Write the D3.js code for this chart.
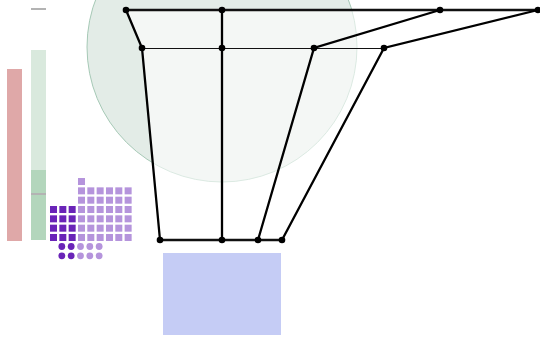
<!DOCTYPE html>
<html>
<head>
<meta charset="utf-8">
<script src="https://cdn.jsdelivr.net/npm/d3@7"></script>
<style>
body { margin: 0; background: #fff; }
</style>
</head>
<body>
<script>
// chart values
var barValues = [172, 191];          // red bar, green range bar
var greenMeasure = [71];             // darker part of the green bar
var greenMarkers = [232, 47];        // grey tick marks on the green bar
var waffleDark = [12, 4];            // squares, dots
var waffleLight = [37, 6];
var levelValues = [0, 38, 230];      // the three horizontal rows
var lineValues = [
  [0, 16, 34],
  [96, 96, 96],
  [314, 188, 132],
  [412, 258, 156]
];
var bubble = [96, 37, 135];          // cx, cy, r
var blockValues = [37, 155, 243, 325]; // x0, x1, y0, y1

var width = 540;
var height = 337;

var svg = d3.select('body').append('svg')
  .attr('width', width).attr('height', height);

// scales
var x = d3.scaleLinear().domain([0, 414]).range([126, 540]);
var y = d3.scaleLinear().domain([0, 230]).range([10, 240]);
var barY = d3.scaleLinear().domain([0, 232]).range([241, 9]);

// big circle in the back
svg.append('circle')
  .attr('cx', x(bubble[0])).attr('cy', y(bubble[1]))
  .attr('r', bubble[2])
  .attr('fill', '#e3ece7').attr('stroke', '#a6c9b6').attr('stroke-width', 1);

// lighter band between first and last line
var band = lineValues[0].map(function (v, i) { return [x(v), y(levelValues[i])]; })
  .concat(lineValues[3].map(function (v, i) { return [x(v), y(levelValues[i])]; }).reverse());
svg.append('path')
  .attr('d', d3.line()(band))
  .attr('fill', '#fff').attr('fill-opacity', 0.6);

// bars on the left
svg.append('rect')
  .attr('x', 7).attr('width', 15)
  .attr('y', barY(barValues[0])).attr('height', barY(0) - barY(barValues[0]))
  .attr('fill', '#dfa8a8');
svg.append('rect')
  .attr('x', 31).attr('width', 15)
  .attr('y', barY(barValues[1])).attr('height', barY(0) - barY(barValues[1]) - 1)
  .attr('fill', '#d9e9dd');
svg.append('rect')
  .attr('x', 31).attr('width', 15)
  .attr('y', barY(greenMeasure[0])).attr('height', barY(0) - barY(greenMeasure[0]) - 1)
  .attr('fill', '#b3d6bc');
svg.selectAll('.marker').data(greenMarkers).enter().append('rect')
  .attr('x', 31).attr('width', 15)
  .attr('y', function (d) { return barY(d) - 1; }).attr('height', 2)
  .attr('fill', '#b3b3b3');

// waffle: squares
var step = 9.33;
function waffleCells(dark, light) {
  var cells = [];
  // dark fills columns 0-2, light fills columns 3-8, from the bottom
  for (var i = 0; i < dark; i++) {
    cells.push({ col: i % 3, row: Math.floor(i / 3), dark: true });
  }
  for (var j = 0; j < light; j++) {
    cells.push({ col: 3 + j % 6, row: Math.floor(j / 6), dark: false });
  }
  return cells;
}
var squares = waffleCells(waffleDark[0], waffleLight[0]);
svg.selectAll('.sq').data(squares).enter().append('rect')
  .attr('x', function (d) { return 50 + d.col * step; })
  .attr('y', function (d) { return 234 - d.row * step; })
  .attr('width', 7).attr('height', 7)
  .attr('fill', function (d) { return d.dark ? '#6a24b8' : '#b594dc'; });

// waffle: dots
var dots = [];
for (var i = 0; i < waffleDark[1]; i++) dots.push({ col: 1 + i % 2, row: Math.floor(i / 2), dark: true });
for (var j = 0; j < waffleLight[1]; j++) dots.push({ col: 3 + j % 3, row: Math.floor(j / 3), dark: false });
svg.selectAll('.dot').data(dots).enter().append('circle')
  .attr('cx', function (d) { return 53 + d.col * step - 0.5; })
  .attr('cy', function (d) { return 246.5 + d.row * step; })
  .attr('r', 3.4)
  .attr('fill', function (d) { return d.dark ? '#6a24b8' : '#b594dc'; });

// blue block
svg.append('rect')
  .attr('x', x(blockValues[0])).attr('width', x(blockValues[1]) - x(blockValues[0]))
  .attr('y', y(blockValues[2])).attr('height', y(blockValues[3]) - y(blockValues[2]))
  .attr('fill', '#c5ccf5');

// horizontal rows
var rowWidths = [2.4, 1.2, 2.4];
levelValues.forEach(function (lv, i) {
  var xs = lineValues.map(function (l) { return l[i]; });
  var yy = y(lv) + (i == 1 ? 0.5 : 0);
  svg.append('line')
    .attr('x1', x(d3.min(xs))).attr('x2', x(d3.max(xs)))
    .attr('y1', yy).attr('y2', yy)
    .attr('stroke', '#111').attr('stroke-width', rowWidths[i]);
});

// connecting lines
var line = d3.line()
  .x(function (d) { return x(d); })
  .y(function (d, i) { return y(levelValues[i]); });
svg.selectAll('.conn').data(lineValues).enter().append('path')
  .attr('d', line)
  .attr('fill', 'none').attr('stroke', '#000').attr('stroke-width', 2.3);

// dots on the lines
lineValues.forEach(function (l) {
  l.forEach(function (v, i) {
    svg.append('circle')
      .attr('cx', x(v)).attr('cy', y(levelValues[i]))
      .attr('r', 3.3).attr('fill', '#000');
  });
});
</script>
</body>
</html>
